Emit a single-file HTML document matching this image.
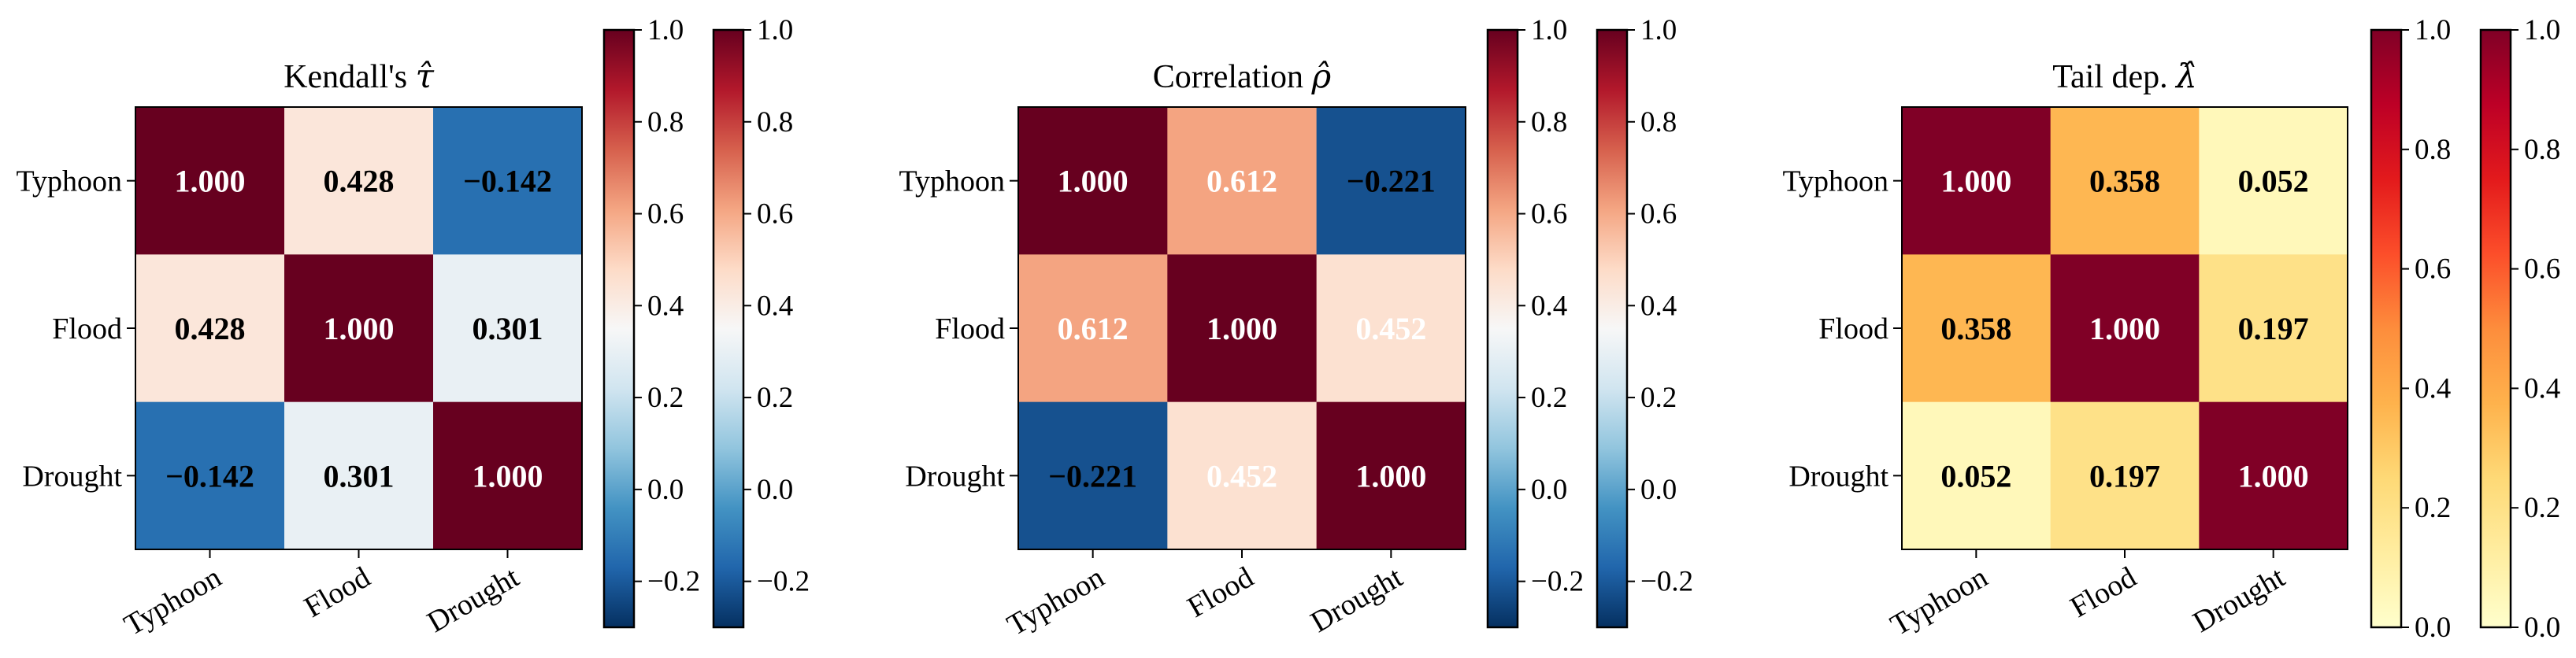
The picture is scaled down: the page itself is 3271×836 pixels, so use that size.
<!DOCTYPE html>
<html><head><meta charset="utf-8"><style>body{margin:0;background:#fff}svg{display:block}text{font-family:"Liberation Serif",serif}tspan.sym{font-family:"DejaVu Serif",serif;font-style:italic}</style></head>
<body>
<svg id="fig" width="3271" height="836" viewBox="0 0 3271 836" xmlns="http://www.w3.org/2000/svg"></svg>
<script>
const categories = ["Typhoon", "Flood", "Drought"];
const kendallValues = [[1.000, 0.428, -0.142],[0.428, 1.000, 0.301],[-0.142, 0.301, 1.000]];
const corrValues = [[1.000, 0.612, -0.221],[0.612, 1.000, 0.452],[-0.221, 0.452, 1.000]];
const tailValues = [[1.000, 0.358, 0.052],[0.358, 1.000, 0.197],[0.052, 0.197, 1.000]];
const divTicks = [-0.2, 0.0, 0.2, 0.4, 0.6, 0.8, 1.0];
const seqTicks = [0.0, 0.2, 0.4, 0.6, 0.8, 1.0];
const titles = ["Kendall's ", "Correlation ", "Tail dep. "];
const titleSymbols = ["τ̂", "ρ̂", "λ̂"];

const RdBu_r = ["#053061","#2166ac","#4393c3","#92c5de","#d1e5f0","#f7f7f7","#fddbc7","#f4a582","#d6604d","#b2182b","#67001f"];
const YlOrRd = ["#ffffcc","#ffeda0","#fed976","#feb24c","#fd8d3c","#fc4e2a","#e31a1c","#bd0026","#800026"];

const panels = [
  {vals: kendallValues, x0:172, x1:739, cb:[767,906], cmap:RdBu_r, vmin:-0.3, vmax:1, ticks:divTicks, id:"kendall"},
  {vals: corrValues, x0:1293, x1:1861, cb:[1889,2028], cmap:RdBu_r, vmin:-0.3, vmax:1, ticks:divTicks, id:"correlation"},
  {vals: tailValues, x0:2415, x1:2981, cb:[3011,3150], cmap:YlOrRd, vmin:0, vmax:1, ticks:seqTicks, id:"tail-dependence"}
];
const Y0 = 136, Y1 = 698, CBT = 38, CBB = 797, CBW = 38;
const NS = "http://www.w3.org/2000/svg";
const svg = document.getElementById("fig");
function mk(tag, attrs, parent){const e=document.createElementNS(NS,tag);for(const k in attrs)e.setAttribute(k,attrs[k]);(parent||svg).appendChild(e);return e;}
function hex(h){return [1,3,5].map(i=>parseInt(h.substr(i,2),16));}
function cmapColor(cm,t){t=Math.max(0,Math.min(1,t));const p=t*(cm.length-1);const i=Math.min(Math.floor(p),cm.length-2);const f=p-i;const a=hex(cm[i]),b=hex(cm[i+1]);return "rgb("+a.map((v,k)=>Math.round(v+(b[k]-v)*f)).join(",")+")";}
function fmt(v){const s=Math.abs(v).toFixed(3);return (v<0?"−":"")+s;}
function fmt1(v){const s=Math.abs(v).toFixed(1);return (v<0?"−":"")+s;}
const defs = mk("defs",{});

panels.forEach((P,pi)=>{
  const g = mk("g",{});
  
  
  const n = categories.length;
  const cw=(P.x1-P.x0)/n, ch=(Y1-Y0)/n;
  const xc=j=>P.x0+cw*(j+0.5), yc=i=>Y0+ch*(i+0.5);
  const norm=v=>(v-P.vmin)/(P.vmax-P.vmin);
  for(let i=0;i<n;i++)for(let j=0;j<n;j++){
    const v=P.vals[i][j];
    const r=mk("rect",{x:P.x0+cw*j,y:Y0+ch*i,width:cw+0.5,height:ch+0.5,fill:cmapColor(P.cmap,norm(v))},g);
    
    
    const t=mk("text",{x:xc(j),y:yc(i)+14,"text-anchor":"middle","font-size":40,"font-weight":"bold",fill:v>0.45?"#fff":"#000"},g);
    t.textContent=fmt(v);
    
    
  }
  mk("rect",{x:P.x0,y:Y0,width:P.x1-P.x0,height:Y1-Y0,fill:"none",stroke:"#000","stroke-width":2},g);
  categories.forEach((c,i)=>{
    mk("line",{x1:P.x0-11,x2:P.x0,y1:yc(i),y2:yc(i),stroke:"#000","stroke-width":2},g);
    const t=mk("text",{x:P.x0-17,y:yc(i)+13,"text-anchor":"end","font-size":38},g);
    t.textContent=c;
    
    
    mk("line",{x1:xc(i),x2:xc(i),y1:Y1,y2:Y1+11,stroke:"#000","stroke-width":2},g);
    const tx=xc(i)+4, ty=Y1+20;
    const t2=mk("text",{x:tx,y:ty,"text-anchor":"end","dominant-baseline":"hanging","font-size":38,transform:`rotate(-30 ${tx} ${ty})`},g);
    t2.textContent=c;
    
    
  });
  const tt=mk("text",{x:(P.x0+P.x1)/2,y:111,"text-anchor":"middle","font-size":42},g);
  tt.textContent=titles[pi];
  const ts=mk("tspan",{"class":"sym"},tt);
  ts.textContent=titleSymbols[pi];
  
  
  const gid="grad"+pi;
  const lg=mk("linearGradient",{id:gid,x1:0,y1:1,x2:0,y2:0},defs);
  P.cmap.forEach((c,k)=>mk("stop",{offset:k/(P.cmap.length-1),"stop-color":c},lg));
  P.cb.forEach((cx,ci)=>{
    const cg=mk("g",{},g);
    
    
    mk("rect",{x:cx,y:CBT,width:CBW,height:CBB-CBT,fill:`url(#${gid})`,stroke:"#000","stroke-width":2.5},cg);
    const cy=v=>CBB-(v-P.vmin)/(P.vmax-P.vmin)*(CBB-CBT);
    P.ticks.forEach(v=>{
      mk("line",{x1:cx+CBW,x2:cx+CBW+10,y1:cy(v),y2:cy(v),stroke:"#000","stroke-width":2},cg);
      const l=mk("text",{x:cx+CBW+17,y:cy(v)+12,"font-size":37},cg);
      l.textContent=fmt1(v);
      
      
    });
  });
});
</script>
</body></html>
